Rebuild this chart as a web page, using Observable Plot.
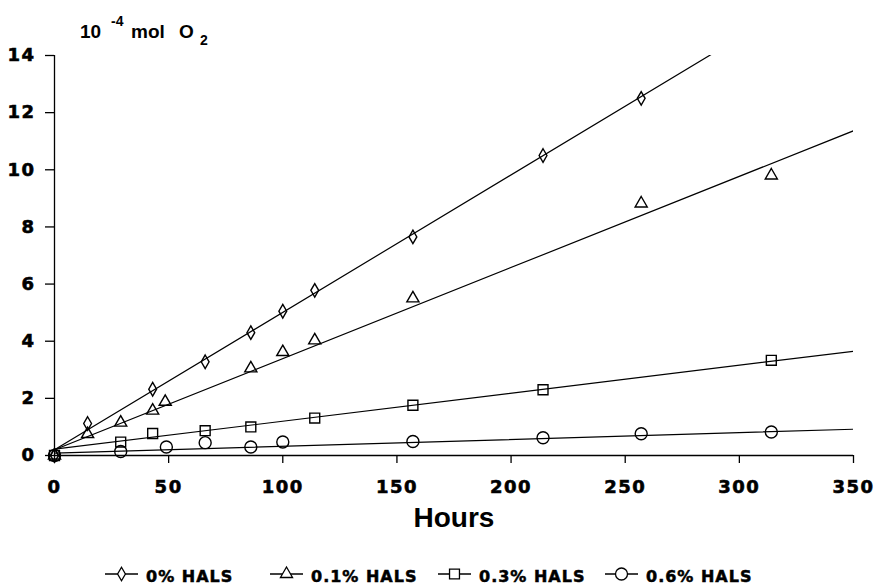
<!DOCTYPE html>
<html>
<head>
<meta charset="utf-8">
<script src="https://cdn.jsdelivr.net/npm/d3@7"></script>
<script src="https://cdn.jsdelivr.net/npm/@observablehq/plot@0.6"></script>
<style>
  body { margin: 0; background: #fff; }
  #wrap { position: relative; width: 878px; height: 586px; overflow: hidden; background: #fff; }
  #title { position: absolute; left: 0; top: 0; z-index: 2; overflow: visible; }
  #chart { position: absolute; left: 0; top: 45px; z-index: 1; }
  #legend { position: absolute; left: 0; top: 540px; z-index: 1; }
</style>
</head>
<body>
<div id="wrap">
  <svg id="title" width="878" height="52" font-family="Liberation Sans, Arial, sans-serif" font-weight="bold" fill="#000">
    <text x="80" y="38" font-size="19">10</text>
    <text x="111" y="26" font-size="14">-4</text>
    <text x="131" y="38" font-size="19">mol</text>
    <text x="179" y="38" font-size="19">O</text>
    <text x="200" y="45" font-size="14">2</text>
  </svg>
  <div id="chart"></div>
  <svg id="legend" width="878" height="46"></svg>
</div>
<script>
// ---- data ----
const xTicks = [0, 50, 100, 150, 200, 250, 300, 350];
const yTicks = [0, 2, 4, 6, 8, 10, 12, 14];

const seriesNames = ["0% HALS", "0.1% HALS", "0.3% HALS", "0.6% HALS"];
const seriesSymbols = ["diamond", "triangle", "square", "circle"];

const hours0  = [0, 14.5, 43, 66, 86, 100, 114, 157, 214, 257];
const oxygen0 = [0, 1.12, 2.32, 3.28, 4.3, 5.05, 5.78, 7.65, 10.5, 12.5];

const hours01  = [0, 14.5, 29, 43, 48.5, 86, 100, 114, 157, 257, 314];
const oxygen01 = [0, 0.75, 1.15, 1.57, 1.88, 3.05, 3.62, 4.03, 5.5, 8.82, 9.8];

const hours03  = [0, 29, 43, 66, 86, 114, 157, 214, 314];
const oxygen03 = [0, 0.47, 0.77, 0.87, 1.0, 1.31, 1.76, 2.3, 3.33];

const hours06  = [0, 29, 49, 66, 86, 100, 157, 214, 257, 314];
const oxygen06 = [0, 0.14, 0.3, 0.45, 0.3, 0.47, 0.49, 0.62, 0.76, 0.82];

// fitted straight lines drawn in the figure (intercept, slope per hour)
const fitIntercepts = [0.2, 0.2, 0.22, 0.08];
const fitSlopes = [0.0481, 0.0319, 0.0098, 0.0024];

// ---- build ----
const hoursAll = [hours0, hours01, hours03, hours06];
const oxygenAll = [oxygen0, oxygen01, oxygen03, oxygen06];
const symbolR = {diamond: 4.1, triangle: 4.5, square: 5.6, circle: 6};

const xDomain = [xTicks[0], xTicks[xTicks.length - 1]];
const yDomain = [yTicks[0], yTicks[yTicks.length - 1]];

const marks = [];
marks.push(Plot.ruleY([0], {stroke: "#000", strokeWidth: 1.3}));
marks.push(Plot.ruleX([0], {stroke: "#000", strokeWidth: 1.3}));
marks.push(Plot.axisX({
  ticks: xTicks, tickSize: 8, tickPadding: 17, tickFormat: d => String(d),
  label: null, strokeWidth: 1.3
}));
marks.push(Plot.axisY({
  ticks: yTicks, tickSize: 9, tickPadding: 10, tickFormat: d => String(d),
  label: null, strokeWidth: 1.3
}));

seriesNames.forEach((name, i) => {
  const fit = xDomain.map(x => ({x, y: fitIntercepts[i] + fitSlopes[i] * x}));
  marks.push(Plot.line(fit, {x: "x", y: "y", stroke: "#000", strokeWidth: 1.2, clip: true}));
});
seriesNames.forEach((name, i) => {
  const pts = hoursAll[i].map((h, j) => ({hours: h, o2: oxygenAll[i][j], series: name}));
  marks.push(Plot.dot(pts, {
    x: "hours", y: "o2", symbol: seriesSymbols[i], r: symbolR[seriesSymbols[i]],
    stroke: "#000", fill: "none", strokeWidth: 1.4
  }));
});
marks.push(Plot.text(["Hours"], {
  frameAnchor: "bottom", lineAnchor: "middle", dy: 63, fontSize: 28, fontWeight: "bold",
  fontFamily: "Liberation Sans, Arial, sans-serif", fill: "#000"
}));

const chart = Plot.plot({
  width: 878,
  height: 495,
  marginTop: 10,
  marginLeft: 54,
  marginRight: 25,
  marginBottom: 85,
  x: {domain: xDomain, axis: null},
  y: {domain: yDomain, axis: null},
  style: {background: "transparent", color: "#000", overflow: "visible"},
  marks
});
document.getElementById("chart").appendChild(chart);
d3.select(chart).selectAll('g[aria-label="x-axis tick label"], g[aria-label="y-axis tick label"]')
  .style("font-size", "18px").style("font-family", "DejaVu Sans").style("font-weight", "bold");
d3.select(chart).selectAll('g[aria-label="x-axis tick label"] text, g[aria-label="y-axis tick label"] text')
  .attr("letter-spacing", "1.5px").attr("stroke", "#000").attr("stroke-width", 0.6);

// ---- legend ----
const legendX = [105, 270, 438, 605];
const legend = d3.select("#legend");
const d3Symbols = {diamond: d3.symbolDiamond, triangle: d3.symbolTriangle, square: d3.symbolSquare, circle: d3.symbolCircle};
seriesNames.forEach((name, i) => {
  const g = legend.append("g").attr("transform", `translate(${legendX[i]},34)`);
  g.append("line").attr("x1", 0).attr("x2", 33).attr("y1", 0).attr("y2", 0)
    .attr("stroke", "#000").attr("stroke-width", 1.3);
  const s = seriesSymbols[i], r = symbolR[s];
  g.append("path").attr("transform", "translate(16.5,0)")
    .attr("d", d3.symbol(d3Symbols[s], Math.PI * r * r)())
    .attr("fill", "#fff").attr("stroke", "#000").attr("stroke-width", 1.3);
  g.append("text").attr("x", 41).attr("y", 8)
    .attr("font-family", "DejaVu Sans").attr("font-weight", "bold").attr("font-size", 16)
    .attr("letter-spacing", "1px").attr("fill", "#000")
    .attr("stroke", "#000").attr("stroke-width", 0.5).text(name);
});
</script>
</body>
</html>
